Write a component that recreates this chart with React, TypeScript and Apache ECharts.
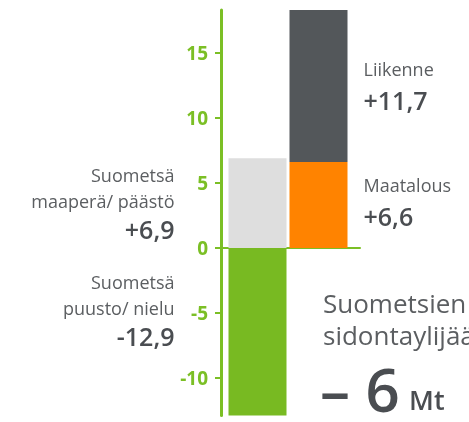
import React, { useEffect, useRef } from "react";
import * as echarts from "echarts";

const categories = ["Suometsät", "Muut"];
const seriesNames = ["Suometsä\npuusto/ nielu", "Suometsä\nmaaperä/ päästö", "Maatalous", "Liikenne"];
const seriesValues = [-12.9, 6.9, 6.6, 11.7];
const seriesColumn = [0, 0, 1, 1];
const seriesColors = ["#78ba22", "#dedede", "#ff8300", "#53575a"];
const tickValues = [-10, -5, 0, 5, 10, 15];
const axisMin = -12.9;
const axisMax = 18.3;
const netTitle = ["Suometsien", "sidontaylijäämä"];
const netValue = -6;
const netUnit = "Mt";

const FONT = "'Open Sans', sans-serif";
const GREEN = "#7bbf25";
const TEXT = "#5b5e61";
const NUM = "#4a4d51";

function fmt(v: number) {
  return (v > 0 ? "+" : "") + String(v).replace(".", ",");
}

export default function App() {
  const ref = useRef<HTMLDivElement>(null);
  useEffect(() => {
    if (!ref.current) return;
    const chart = echarts.init(ref.current, undefined, { renderer: "svg" });
    const series: any[] = seriesValues.map((v, i) => {
      const isLeft = seriesColumn[i] === 0;
      const data = categories.map((_, c) => (c === seriesColumn[i] ? v : "-"));
      const offsets = [[0, -22], [0, 0], [0, -3], [0, 0]];
      return {
        type: "bar",
        name: seriesNames[i],
        xAxisIndex: 1,
        yAxisIndex: 1,
        stack: "all",
        barWidth: 58,
        data,
        itemStyle: { color: seriesColors[i] },
        z: 3,
        label: {
          show: true,
          position: isLeft ? "left" : "right",
          distance: isLeft ? 54 : 16,
          offset: offsets[i],
          fontFamily: FONT,
          formatter: (p: any) => {
            const names = seriesNames[i].split("\n").map((n) => `{a|${n}}`).join("\n");
            return `${names}\n{b|${fmt(p.value)}}`;
          },
          rich: {
            a: { fontFamily: FONT, fontSize: 18, lineHeight: isLeft ? 26 : 28, color: TEXT, align: isLeft ? "right" : "left" },
            b: { fontFamily: FONT, fontSize: 25, fontWeight: 600, lineHeight: isLeft ? 30 : 34, color: NUM, align: isLeft ? "right" : "left" },
          },
        },
      };
    });
    series.push({ type: "line", xAxisIndex: 0, yAxisIndex: 0, data: [], silent: true });
    const netStr = (netValue < 0 ? "– " : "+ ") + String(Math.abs(netValue));
    chart.setOption({
      animation: false,
      grid: [
        { left: 221, right: 109, top: 10, bottom: 6.4 },
        { left: 227, right: 120, top: 10, bottom: 6.4 },
      ],
      xAxis: [
        {
          type: "value",
          gridIndex: 0,
          min: 0,
          max: 1,
          axisLine: { show: true, onZero: true, lineStyle: { color: GREEN, width: 2 } },
          axisTick: { show: false },
          axisLabel: { show: false },
          splitLine: { show: false },
        },
        {
          type: "category",
          gridIndex: 1,
          data: categories,
          axisLine: { show: false },
          axisTick: { show: false },
          axisLabel: { show: false },
        },
      ],
      yAxis: [
        {
          type: "value",
          gridIndex: 0,
          min: axisMin,
          max: axisMax,
          axisLine: { show: true, lineStyle: { color: GREEN, width: 3 } },
          axisTick: { show: true, length: 6, lineStyle: { color: GREEN, width: 2 }, customValues: tickValues },
          axisLabel: {
            customValues: tickValues,
            margin: 13,
            color: GREEN,
            fontFamily: FONT,
            fontWeight: "bold",
            fontSize: 19,
          },
          splitLine: { show: false },
        },
        {
          type: "value",
          gridIndex: 1,
          min: axisMin,
          max: axisMax,
          show: false,
          splitLine: { show: false },
        },
      ],
      series,
      graphic: [
        {
          type: "text",
          x: 323,
          y: 303,
          style: { text: netTitle[0], fontFamily: FONT, fontSize: 26, lineHeight: 28, fill: TEXT, verticalAlign: "middle" },
        },
        {
          type: "text",
          x: 323,
          y: 335,
          style: { text: netTitle[1], fontFamily: FONT, fontSize: 26, lineHeight: 28, fill: TEXT, verticalAlign: "middle" },
        },
        {
          type: "text",
          x: 320,
          y: 389,
          style: { text: netStr, fontFamily: FONT, fontSize: 60, lineHeight: 56, fontWeight: 600, fill: NUM, verticalAlign: "middle" },
        },
        {
          type: "text",
          x: 409,
          y: 399,
          style: { text: netUnit, fontFamily: FONT, fontSize: 27, lineHeight: 28, fontWeight: 600, fill: NUM, verticalAlign: "middle" },
        },
      ],
    });
    return () => chart.dispose();
  }, []);
  return <div ref={ref} style={{ position: "fixed", left: 0, top: 0, width: 469, height: 422 }} />;
}
